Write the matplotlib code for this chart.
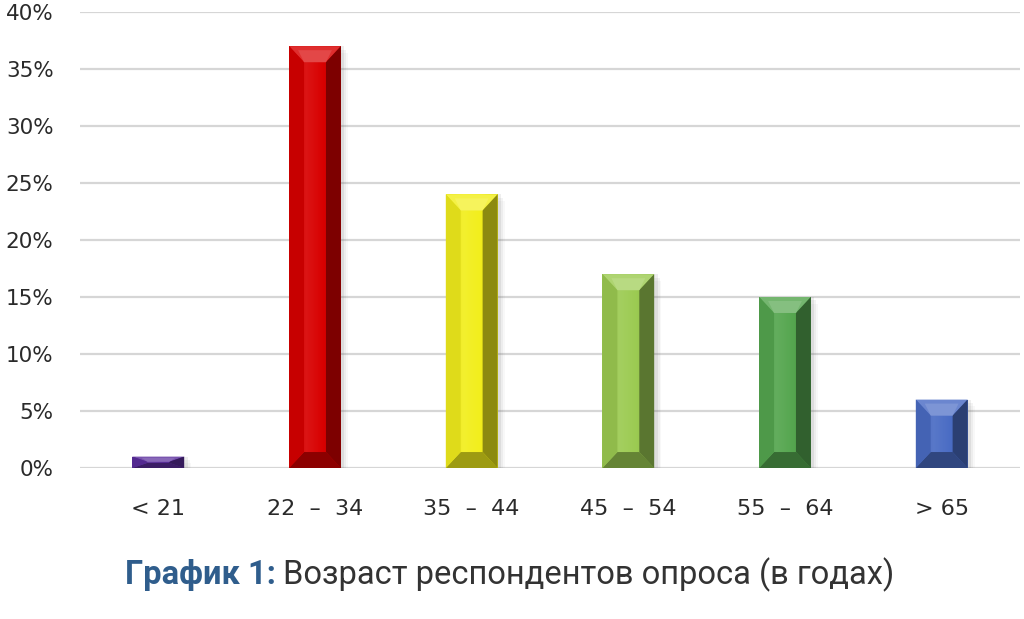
import numpy as np
import matplotlib
matplotlib.use("Agg")
import matplotlib.pyplot as plt
from matplotlib.patches import Polygon, Rectangle
from matplotlib.colors import to_rgb, LinearSegmentedColormap

# data
age_groups = ["< 21", "22  –  34", "35  –  44", "45  –  54", "55  –  64", "> 65"]
shares = [1, 37, 24, 17, 15, 6]
bar_colors = ["#5a2d9c", "#d80000", "#f2ee1c", "#9ccb52", "#55a64f", "#4a6cc4"]
y_ticks = [0, 5, 10, 15, 20, 25, 30, 35, 40]


def mix(c, other, f):
    c = np.array(to_rgb(c))
    return tuple(c * (1 - f) + np.array(other) * f)


def lighter(c, f):
    return mix(c, (1, 1, 1), f)


def darker(c, f):
    return mix(c, (0, 0, 0), f)


fig = plt.figure(figsize=(10.24, 6.19), dpi=100)
ax = fig.add_axes([80 / 1024, 1 - 468 / 619, 940 / 1024, 456 / 619])

x = np.arange(len(age_groups))
bars = ax.bar(x, shares, width=0.33, color=bar_colors, zorder=3, linewidth=0)

ax.set_xlim(-0.5, 5.5)
ax.set_ylim(0, 40)

# bevel / 3d look on each bar
for rect, col in zip(bars, bar_colors):
    x0, w, h = rect.get_x(), rect.get_width(), rect.get_height()
    dx = 0.095
    dy = min(1.4, h * 0.45)

    # soft shadow on the right
    for i, a in enumerate([0.10, 0.07, 0.04]):
        ax.add_patch(Rectangle((x0 + w, 0), 0.012 * (i + 1) + 0.01, h - 0.3 * i,
                               color="#606060", alpha=a, lw=0, zorder=2))

    # face with horizontal gradient
    cmap = LinearSegmentedColormap.from_list(
        "f", [darker(col, 0.05), lighter(col, 0.08), col, darker(col, 0.12)])
    im = ax.imshow(np.linspace(0, 1, 64).reshape(1, -1), cmap=cmap,
                   extent=(x0, x0 + w, 0, h), aspect="auto", zorder=3.5,
                   interpolation="bilinear")
    im.set_clip_path(rect)

    # bevel strips
    ax.add_patch(Polygon([(x0, h), (x0 + w, h), (x0 + w - dx, h - dy), (x0 + dx, h - dy)],
                         closed=True, color=lighter(col, 0.18), lw=0, zorder=4))
    ax.add_patch(Polygon([(x0, 0), (x0 + w, 0), (x0 + w - dx, dy), (x0 + dx, dy)],
                         closed=True, color=darker(col, 0.35), lw=0, zorder=4))
    ax.add_patch(Polygon([(x0, 0), (x0 + dx, dy), (x0 + dx, h - dy), (x0, h)],
                         closed=True, color=darker(col, 0.08), lw=0, zorder=4))
    ax.add_patch(Polygon([(x0 + w, 0), (x0 + w - dx, dy), (x0 + w - dx, h - dy), (x0 + w, h)],
                         closed=True, color=darker(col, 0.42), lw=0, zorder=4))
    # top highlight in the middle of the top bevel
    ax.add_patch(Polygon([(x0 + dx * 0.6, h - dy * 0.25), (x0 + w - dx * 0.6, h - dy * 0.25),
                          (x0 + w - dx, h - dy), (x0 + dx, h - dy)],
                         closed=True, color=lighter(col, 0.28), lw=0, zorder=4.1))

ax.set_yticks(y_ticks)
ax.set_yticklabels([f"{t}%" for t in y_ticks])
ax.set_xticks(x)
ax.set_xticklabels(age_groups)
ax.tick_params(axis="y", length=0, pad=19, labelsize=15.5, labelcolor="#2a2a2a")
ax.tick_params(axis="x", length=0, pad=22, labelsize=16, labelcolor="#2a2a2a")

ax.yaxis.grid(True, color="#d6d6d6", linewidth=1.6)
ax.set_axisbelow(True)
for s in ax.spines.values():
    s.set_visible(False)

# caption
fig.text(276 / 1024, 1 - 575 / 619, "График 1:", ha="right", va="center",
         fontsize=23.5, fontweight="bold", color="#2f5d8c", family="Roboto")
fig.text(283 / 1024, 1 - 575 / 619, "Возраст респондентов опроса (в годах)", ha="left",
         va="center", fontsize=23.5, color="#333333", family="Roboto")

fig.savefig("out.png", dpi=100, facecolor="white")
